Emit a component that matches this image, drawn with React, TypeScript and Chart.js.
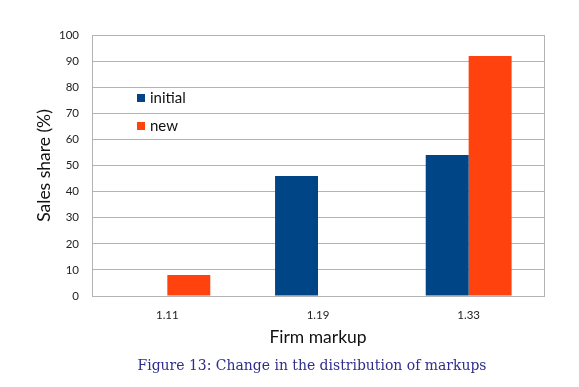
import React, { useEffect, useRef } from "react";
import { Chart, registerables } from "chart.js";

Chart.register(...registerables);

const categories = ["1.11", "1.19", "1.33"];
const initialValues = [0, 46, 54];
const newValues = [8, 0, 92];
const seriesNames = ["initial", "new"];
const seriesColors = ["#004586", "#ff420e"];
const yTicks = [0, 10, 20, 30, 40, 50, 60, 70, 80, 90, 100];
const captionText = "Figure 13: Change in the distribution of markups";

const FONT = "Lato, 'Open Sans', sans-serif";

const plotBorder = {
  id: "plotBorder",
  beforeDatasetsDraw(chart: any) {
    const { ctx, chartArea: a } = chart;
    ctx.save();
    ctx.strokeStyle = "#b3b3b3";
    ctx.lineWidth = 1;
    ctx.strokeRect(Math.round(a.left) + 0.5, Math.round(a.top) + 0.5, Math.round(a.right - a.left), Math.round(a.bottom - a.top));
    ctx.restore();
  },
};

const innerLegend = {
  id: "innerLegend",
  afterDraw(chart: any) {
    const ctx = chart.ctx;
    ctx.save();
    const items = [
      { label: seriesNames[0], color: seriesColors[0], y: 98 },
      { label: seriesNames[1], color: seriesColors[1], y: 126 },
    ];
    ctx.font = `15px ${FONT}`;
    ctx.textBaseline = "middle";
    ctx.textAlign = "left";
    for (const it of items) {
      ctx.fillStyle = it.color;
      ctx.fillRect(137, it.y - 4, 8, 8);
      ctx.fillStyle = "#111";
      ctx.fillText(it.label, 150, it.y);
    }
    ctx.restore();
  },
};

const caption = {
  id: "caption",
  afterDraw(chart: any) {
    const ctx = chart.ctx;
    ctx.save();
    ctx.font = "15px 'DejaVu Serif', serif";
    ctx.fillStyle = "#2e2e8c";
    ctx.textAlign = "center";
    ctx.textBaseline = "middle";
    ctx.fillText(captionText, 312, 366, 349);
    ctx.restore();
  },
};

export default function App() {
  const ref = useRef<HTMLCanvasElement>(null);
  useEffect(() => {
    if (!ref.current) return;
    const chart = new Chart(ref.current, {
      type: "bar",
      data: {
        labels: categories,
        datasets: [
          {
            label: seriesNames[0],
            data: initialValues,
            backgroundColor: seriesColors[0],
            categoryPercentage: 0.57,
            barPercentage: 1,
          },
          {
            label: seriesNames[1],
            data: newValues,
            backgroundColor: seriesColors[1],
            categoryPercentage: 0.57,
            barPercentage: 1,
          },
        ],
      },
      options: {
        animation: false,
        responsive: false,
        layout: { padding: { left: 0, right: 35, top: 35, bottom: 39 } },
        plugins: {
          legend: { display: false },
          tooltip: { enabled: false },
        },
        scales: {
          x: {
            grid: { display: false, drawTicks: false },
            border: { color: "#b3b3b3" },
            ticks: {
              font: { family: FONT, size: 11.5 },
              color: "#222",
              padding: 12,
            },
            title: {
              display: true,
              text: "Firm markup",
              font: { family: FONT, size: 17.5 },
              color: "#111",
              padding: { top: 0, bottom: 0 },
            },
            afterFit: (s: any) => {
              s.height = 52;
            },
          },
          y: {
            min: 0,
            max: 100,
            afterBuildTicks: (s: any) => {
              s.ticks = yTicks.map((v) => ({ value: v }));
            },
            grid: { color: "#b3b3b3", drawTicks: false },
            border: { color: "#b3b3b3" },
            ticks: {
              font: { family: FONT, size: 11.5 },
              color: "#222",
              padding: 13,
            },
            title: {
              display: true,
              text: "Sales share (%)",
              font: { family: FONT, size: 17.5 },
              color: "#111",
              padding: { top: 34, bottom: 0 },
            },
            afterFit: (s: any) => {
              s.width = 92;
            },
          },
        },
      },
      plugins: [plotBorder, innerLegend, caption],
    });
    return () => chart.destroy();
  }, []);
  return (
    <div style={{ position: "fixed", left: 0, top: 0, width: 579, height: 387, background: "#fff" }}>
      <canvas ref={ref} width={579} height={387} style={{ width: 579, height: 387 }} />
    </div>
  );
}
